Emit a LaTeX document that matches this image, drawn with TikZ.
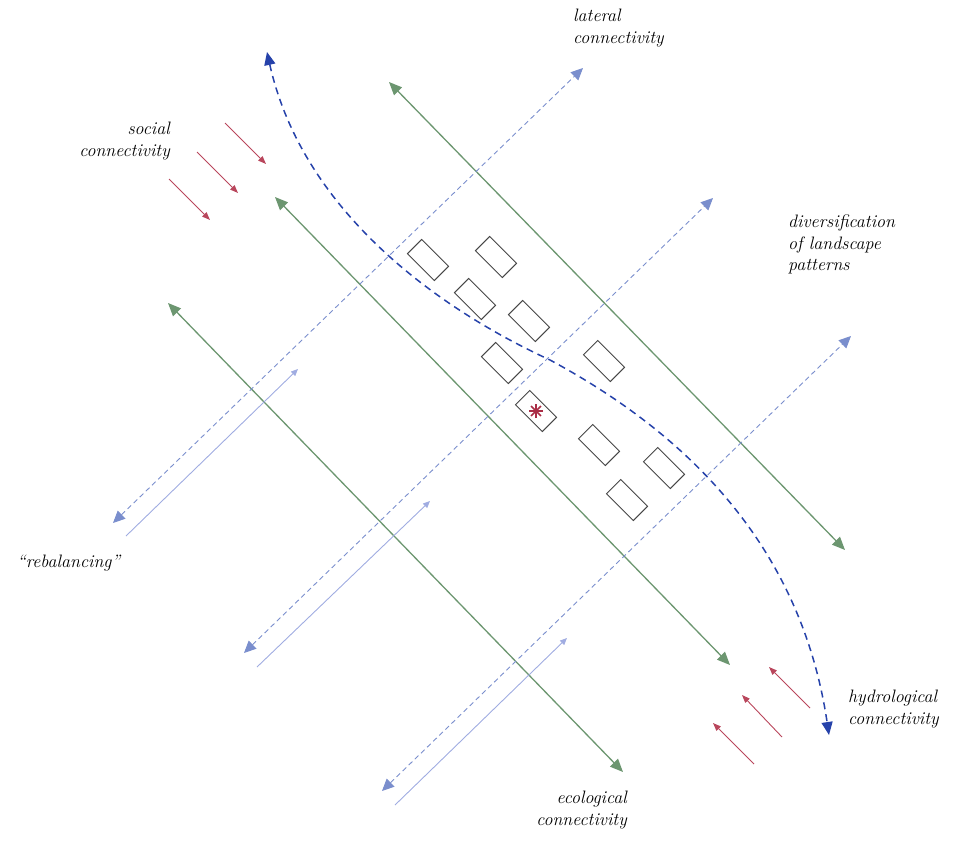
\documentclass[tikz,border=0pt]{standalone}
\usetikzlibrary{arrows.meta}
\definecolor{ecogreen}{RGB}{108,150,112}
\definecolor{latblue}{RGB}{122,142,205}
\definecolor{thinblue}{RGB}{160,172,225}
\definecolor{hydroblue}{RGB}{38,66,170}
\definecolor{socred}{RGB}{185,70,92}
\definecolor{housegray}{RGB}{70,70,70}
\definecolor{starred}{RGB}{170,45,70}
\tikzset{
  greenarrow/.style={draw=ecogreen, line width=1.3pt, {Triangle[length=13pt,width=11pt]}-{Triangle[length=13pt,width=11pt]}},
  latarrow/.style={draw=latblue, line width=0.9pt, dash pattern=on 5pt off 3.5pt, {Triangle[length=12pt,width=11pt]}-{Triangle[length=12pt,width=11pt]}},
  thinarrow/.style={draw=thinblue, line width=0.9pt, -{Triangle[length=7pt,width=6pt]}},
  redarrow/.style={draw=socred, line width=0.9pt, -{Triangle[length=8pt,width=6pt]}},
  hydroarrow/.style={draw=hydroblue, line width=1.5pt, dash pattern=on 7pt off 5pt, {Triangle[length=13pt,width=11pt]}-{Triangle[length=13pt,width=11pt]}},
  house/.style={draw=housegray, line width=0.9pt, minimum width=38pt, minimum height=20pt, inner sep=0pt, rotate=-45},
  lbl/.style={font=\fontsize{18}{21.5}\selectfont\itshape, inner sep=0pt},
}
\begin{document}
\begin{tikzpicture}[x=1pt,y=-1pt]
\useasboundingbox (0,0) rectangle (954,843);
% green ecological arrows
\coordinate (g1a) at (389,82);  \coordinate (g1b) at (845,550);
\coordinate (g2a) at (275,197); \coordinate (g2b) at (730,665);
\coordinate (g3a) at (168,303); \coordinate (g3b) at (623,772);
\draw[greenarrow] (g1a) -- (g1b);
\draw[greenarrow] (g2a) -- (g2b);
\draw[greenarrow] (g3a) -- (g3b);
% lateral dashed arrows
\coordinate (l1a) at (583,68);  \coordinate (l1b) at (113,523);
\coordinate (l2a) at (713,198); \coordinate (l2b) at (244,653);
\coordinate (l3a) at (851,336); \coordinate (l3b) at (382,791);
\draw[latarrow] (l1b) -- (l1a);
\draw[latarrow] (l2b) -- (l2a);
\draw[latarrow] (l3b) -- (l3a);
% thin rebalancing arrows
\coordinate (t1a) at (126,536); \coordinate (t1b) at (298,369);
\coordinate (t2a) at (257,667); \coordinate (t2b) at (430,501);
\coordinate (t3a) at (395,805); \coordinate (t3b) at (567,638);
\draw[thinarrow] (t1a) -- (t1b);
\draw[thinarrow] (t2a) -- (t2b);
\draw[thinarrow] (t3a) -- (t3b);
% social arrows
\coordinate (s1a) at (225,123); \coordinate (s1b) at (266,164);
\coordinate (s2a) at (197,152); \coordinate (s2b) at (238,193);
\coordinate (s3a) at (169,179); \coordinate (s3b) at (210,220);
\draw[redarrow] (s1a) -- (s1b);
\draw[redarrow] (s2a) -- (s2b);
\draw[redarrow] (s3a) -- (s3b);
\coordinate (r1a) at (810,708); \coordinate (r1b) at (769,667);
\coordinate (r2a) at (782,737); \coordinate (r2b) at (742,695);
\coordinate (r3a) at (754,764); \coordinate (r3b) at (713,723);
\draw[redarrow] (r1a) -- (r1b);
\draw[redarrow] (r2a) -- (r2b);
\draw[redarrow] (r3a) -- (r3b);
% houses
\node[house] (h1) at (428,260) {};
\node[house] (h2) at (496,257) {};
\node[house] (h3) at (475,299) {};
\node[house] (h4) at (529,321) {};
\node[house] (h5) at (502,363) {};
\node[house] (h6) at (604,361) {};
\node[house] (h7) at (536,411) {};
\node[house] (h8) at (599,445) {};
\node[house] (h9) at (664,468) {};
\node[house] (h10) at (627,500) {};
% asterisk
\foreach \a in {0,45,90,135}
  \draw[starred, line width=1.6pt] (h7.center) ++(\a:7) -- ++(\a+180:14);
% hydrological curve
\coordinate (hyA) at (267,52);
\coordinate (hyM) at (550,360);
\coordinate (hyB) at (829,735);
\draw[hydroarrow] (hyA) .. controls (300,200) and (420,300) .. (hyM)
  .. controls (680,430) and (800,540) .. (hyB);
% labels
\node[lbl, anchor=north west, align=left] (latlbl) at (573,9) {lateral\\connectivity};
\node[lbl, anchor=north east, align=right] (soclbl) at (170,122) {social\\connectivity};
\node[lbl, anchor=north west, align=left] (divlbl) at (788,215) {diversification\\of landscape\\patterns};
\node[lbl, anchor=base west] (reblbl) at (17,567) {``rebalancing''};
\node[lbl, anchor=north west, align=left] (hydlbl) at (848,690) {hydrological\\connectivity};
\node[lbl, anchor=north east, align=right] (ecolbl) at (627,791) {ecological\\connectivity};
\end{tikzpicture}
\end{document}
